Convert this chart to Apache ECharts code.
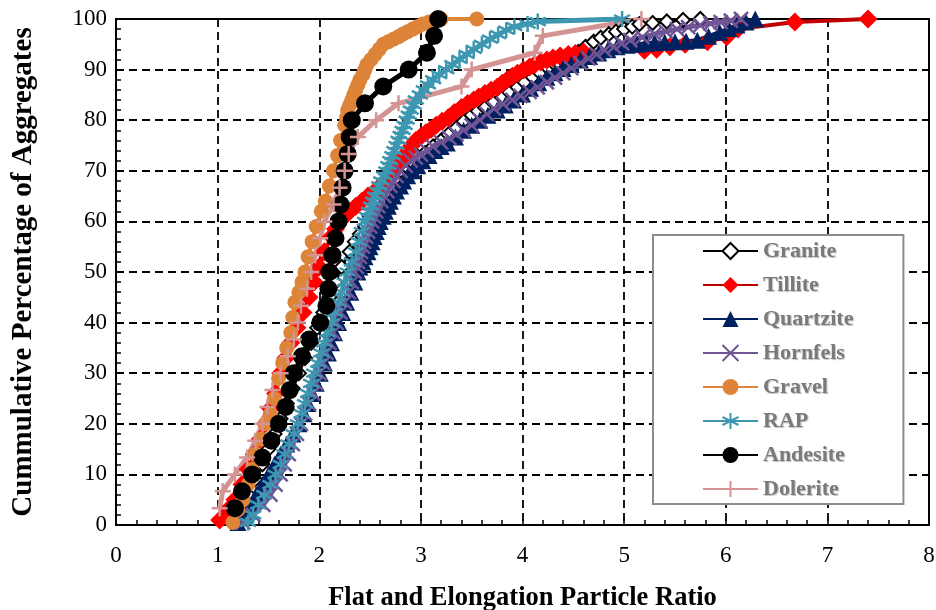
<!DOCTYPE html>
<html>
<head>
<meta charset="utf-8">
<script src="https://cdn.jsdelivr.net/npm/echarts@6/dist/echarts.min.js"></script>
<style>html,body{margin:0;padding:0;background:#fff}#c{width:936px;height:610px}</style>
</head>
<body>
<div id="c"></div>
<script>
var xTicks = [0,1,2,3,4,5,6,7,8];
var yTicks = [0,10,20,30,40,50,60,70,80,90,100];
var seriesNames = ['Granite','Tillite','Quartzite','Hornfels','Gravel','RAP','Andesite','Dolerite'];

var granite = [[1.15,0.5],[1.22,3],[1.3,6],[1.37,9],[1.44,12],[1.5,15],[1.56,18],[1.62,21],[1.68,24],[1.74,27],[1.8,30],[1.86,33],[1.92,36],[1.98,39],[2.04,42],[2.1,45],[2.16,48],[2.22,51],[2.3,54],[2.35,56],[2.4,57.5],[2.45,59],[2.5,61],[2.55,62.5],[2.6,64],[2.65,65.5],[2.7,67],[2.75,68.5],[2.8,70],[2.85,71],[2.9,72],[2.97,72.8],[3.04,73.5],[3.12,74.8],[3.2,76],[3.27,77.2],[3.35,78.5],[3.42,79.8],[3.5,81],[3.56,81.8],[3.63,82.5],[3.71,83.5],[3.8,84.5],[3.87,85.5],[3.95,86.5],[4.02,87.5],[4.1,88.5],[4.17,89.4],[4.25,90.3],[4.32,91],[4.4,91.8],[4.47,92.6],[4.55,93.5],[4.62,94.5],[4.7,95.5],[4.77,96.3],[4.85,97],[4.92,97.5],[5.0,98],[5.08,98.5],[5.15,99],[5.28,99.2],[5.42,99.5],[5.58,99.8],[5.75,100]];

var tillite = [[1.02,1],[1.1,3],[1.17,5],[1.24,8],[1.3,11],[1.36,14],[1.42,17],[1.47,20],[1.52,23],[1.57,26],[1.62,30],[1.67,33],[1.72,36],[1.78,39],[1.84,42],[1.9,45],[1.95,48],[2.0,51],[2.05,54],[2.12,57],[2.16,58.5],[2.2,60],[2.25,61],[2.3,62],[2.36,63],[2.42,64],[2.48,65],[2.55,66],[2.6,67],[2.65,68],[2.7,69],[2.74,70],[2.77,71],[2.8,72],[2.84,73],[2.88,74],[2.91,75],[2.95,76],[3.0,76.8],[3.05,77.5],[3.1,78.2],[3.15,79],[3.21,79.8],[3.27,80.5],[3.33,81.5],[3.4,82.5],[3.46,83.3],[3.52,84],[3.57,84.6],[3.63,85.3],[3.69,85.9],[3.75,86.5],[3.8,87.3],[3.85,88],[3.9,88.7],[3.95,89.3],[4.01,89.9],[4.07,90.5],[4.12,91],[4.18,91.5],[4.24,91.9],[4.3,92.3],[4.37,92.7],[4.45,93],[4.52,93.2],[4.6,93.5],[5.2,93.8],[5.32,94],[5.45,94.5],[5.6,95],[5.82,95.5],[6.01,96.5],[6.12,98],[6.68,99.4],[7.4,100]];

var quartzite = [[1.2,0.5],[1.27,2],[1.33,4],[1.38,6],[1.44,8],[1.5,10],[1.56,12],[1.62,14],[1.68,16],[1.74,18],[1.8,20],[1.85,22],[1.89,24],[1.93,26],[1.97,28],[2.01,30],[2.05,32],[2.09,34],[2.12,36],[2.15,38],[2.19,40],[2.23,42],[2.27,44],[2.31,46],[2.35,48],[2.38,50],[2.4,51],[2.43,52],[2.45,53],[2.48,54],[2.5,55],[2.52,56],[2.54,57],[2.56,58],[2.58,59],[2.6,60],[2.63,61],[2.65,62],[2.68,63],[2.7,64],[2.73,65],[2.76,66],[2.8,67],[2.83,68],[2.87,69],[2.92,70],[2.97,71],[3.02,72],[3.08,73],[3.14,74],[3.2,74.8],[3.26,75.5],[3.34,76.7],[3.42,78],[3.5,79],[3.58,80],[3.66,81],[3.75,82],[3.83,83],[3.91,84],[4.0,85.2],[4.08,86.3],[4.16,87.4],[4.24,88.5],[4.32,89.4],[4.4,90.2],[4.48,91],[4.57,91.9],[4.66,92.6],[4.75,93.3],[4.84,93.9],[4.93,94.5],[5.03,94.8],[5.13,95],[5.22,95.2],[5.3,95.3],[5.4,95.4],[5.5,95.5],[5.61,95.6],[5.72,95.8],[5.83,96.6],[5.94,97.4],[6.03,98.1],[6.11,98.8],[6.2,99.4],[6.29,100]];

var hornfels = [[1.25,0.5],[1.35,2],[1.45,4],[1.52,6],[1.57,8],[1.62,10],[1.66,12],[1.7,14],[1.74,16],[1.78,18],[1.82,20],[1.86,22],[1.9,24],[1.94,26],[1.97,28],[2.0,30],[2.04,32],[2.07,34],[2.1,36],[2.14,38],[2.17,40],[2.21,42],[2.25,44],[2.29,46],[2.32,48],[2.35,50],[2.37,51],[2.38,52],[2.4,53],[2.41,54],[2.43,55],[2.44,56],[2.46,57],[2.48,58],[2.5,59],[2.52,60],[2.54,61],[2.56,62],[2.58,63],[2.61,64],[2.64,65],[2.67,66],[2.7,67],[2.73,68],[2.76,69],[2.8,70],[2.85,71],[2.9,72],[2.95,72.6],[3.0,73.2],[3.06,74],[3.12,74.8],[3.2,75.6],[3.28,76.5],[3.35,77.2],[3.42,78],[3.5,79],[3.58,80],[3.65,81.2],[3.72,82.3],[3.81,83.2],[3.9,84],[3.98,84.8],[4.07,85.6],[4.15,86.5],[4.24,87.5],[4.32,88.4],[4.4,89.3],[4.48,90.3],[4.57,91.3],[4.65,92.2],[4.73,93],[4.81,93.8],[4.9,94.5],[4.98,95.2],[5.06,95.8],[5.18,96.4],[5.3,97],[5.41,97.5],[5.52,98],[5.63,98.4],[5.75,98.8],[5.85,99.1],[5.95,99.4],[6.05,99.7],[6.15,100]];

var gravel = [[1.15,0.5],[1.2,3],[1.25,5],[1.3,8],[1.34,11],[1.37,14],[1.42,17],[1.47,20],[1.52,22],[1.56,25],[1.6,29],[1.64,32],[1.68,35],[1.72,38],[1.74,41],[1.76,44],[1.8,46],[1.83,48],[1.86,50],[1.89,53],[1.93,56],[1.97,59],[2.02,62],[2.06,64],[2.1,67],[2.14,70],[2.18,73],[2.21,76],[2.25,79],[2.27,80.5],[2.28,82],[2.3,83],[2.32,84],[2.34,85],[2.36,86],[2.38,87],[2.4,88],[2.43,89],[2.45,90],[2.47,91],[2.51,92],[2.55,93],[2.59,94],[2.63,95],[2.68,95.5],[2.73,96],[2.78,96.5],[2.82,97],[2.87,97.5],[2.92,98],[2.97,98.5],[3.02,99],[3.08,99.4],[3.14,99.7],[3.2,100],[3.55,100]];

var rap = [[1.3,0.5],[1.35,2],[1.4,4],[1.46,6],[1.52,8],[1.57,10],[1.62,12],[1.66,14],[1.7,16],[1.75,18],[1.79,20],[1.83,22],[1.86,24],[1.89,26],[1.92,28],[1.95,30],[1.99,32],[2.02,34],[2.05,36],[2.08,38],[2.12,40],[2.15,42],[2.19,44],[2.22,46],[2.25,48],[2.28,50],[2.32,52],[2.36,54],[2.39,56],[2.42,58],[2.45,60],[2.47,61],[2.49,62],[2.51,63],[2.53,64],[2.55,65],[2.57,66],[2.59,67],[2.61,68],[2.64,69],[2.66,70],[2.68,71],[2.7,72],[2.72,73],[2.74,74],[2.76,75],[2.78,76],[2.8,77],[2.82,78],[2.84,79],[2.86,80],[2.88,81],[2.9,82],[2.93,83],[2.95,84],[2.99,85],[3.03,86],[3.07,87],[3.12,88],[3.18,89],[3.25,90],[3.31,91],[3.38,92],[3.45,93],[3.52,94],[3.6,95],[3.68,96],[3.76,96.9],[3.84,97.8],[3.92,98.5],[4.05,99],[4.15,99.5],[4.98,100]];

var andesite = [[1.17,3.33],[1.24,6.67],[1.34,10],[1.44,13.33],[1.53,16.67],[1.6,20],[1.67,23.33],[1.71,26.67],[1.75,30],[1.83,33.33],[1.9,36.67],[2.01,40],[2.07,43.33],[2.09,46.67],[2.1,50],[2.13,53.33],[2.16,56.67],[2.19,60],[2.21,63.33],[2.23,66.67],[2.25,70],[2.28,73.33],[2.3,76.67],[2.32,80],[2.45,83.33],[2.63,86.67],[2.88,90],[3.06,93.33],[3.13,96.67],[3.17,100]];

var dolerite = [[1.02,3.33],[1.05,6.67],[1.17,10],[1.29,13.33],[1.37,16.67],[1.44,20],[1.49,23.33],[1.54,26.67],[1.62,30],[1.69,33.33],[1.75,36.67],[1.79,40],[1.82,43.33],[1.88,46.67],[1.92,50],[1.96,53.33],[2.01,56.67],[2.05,60],[2.14,63.33],[2.2,66.67],[2.25,70],[2.29,73.33],[2.38,76.67],[2.56,80],[2.78,83.33],[3.4,86.67],[3.5,90],[4.12,93.33],[4.2,96.67],[5.17,100]];

var SYM_X = 'path://M0 0 L10 10 M10 0 L0 10';
var SYM_PLUS = 'path://M5 0 L5 10 M0 5 L10 5';
var SYM_AST = 'path://M5 0 L5 10 M0.7 2.5 L9.3 7.5 M0.7 7.5 L9.3 2.5';

function mk(name, data, lineColor, lineWidth, symbol, size, fill, border, bw) {
  return {
    name: name, type: 'line', data: data,
    symbol: symbol, symbolSize: size,
    lineStyle: {color: lineColor, width: lineWidth},
    itemStyle: {color: fill, borderColor: border, borderWidth: bw},
    emphasis: {disabled: true},
    animation: false
  };
}

var chart = echarts.init(document.getElementById('c'), null, {renderer: 'canvas'});
var serif = 'Liberation Serif';
chart.setOption({
  animation: false,
  grid: {left: 116, right: 7, top: 19, bottom: 85, outerBoundsMode: 'none', containLabel: false,
    show: true, borderColor: '#000', borderWidth: 2, backgroundColor: 'transparent'},
  xAxis: {
    type: 'value', min: xTicks[0], max: xTicks[xTicks.length-1], interval: 1,
    name: 'Flat and Elongation Particle Ratio', nameLocation: 'middle', nameGap: 60,
    nameTextStyle: {fontFamily: serif, fontWeight: 'bold', fontSize: 26.5, color: '#000'},
    axisLine: {show: true, onZero: false, lineStyle: {color: '#000', width: 2}},
    axisTick: {show: true, inside: true, length: 6, lineStyle: {color: '#000', width: 1.5}},
    minorTick: {show: true, splitNumber: 5, length: 5, lineStyle: {color: '#000', width: 1.5}},
    axisLabel: {fontFamily: serif, fontSize: 23, color: '#000', margin: 19},
    splitLine: {show: true, lineStyle: {color: '#000', width: 1.8, type: [8, 5]}}
  },
  yAxis: {
    type: 'value', min: yTicks[0], max: yTicks[yTicks.length-1], interval: 10,
    name: 'Cummulative Percentage of Aggregates', nameLocation: 'middle', nameGap: 78,
    nameTextStyle: {fontFamily: serif, fontWeight: 'bold', fontSize: 29, color: '#000'},
    axisLine: {show: true, onZero: false, lineStyle: {color: '#000', width: 2}},
    axisTick: {show: true, inside: true, length: 6, lineStyle: {color: '#000', width: 1.5}},
    minorTick: {show: true, splitNumber: 5, length: 5, lineStyle: {color: '#000', width: 1.5}},
    axisLabel: {fontFamily: serif, fontSize: 23, color: '#000', margin: 9},
    splitLine: {show: true, lineStyle: {color: '#000', width: 1.8, type: [8, 5]}}
  },
  legend: {
    data: seriesNames,
    orient: 'vertical', left: 653, top: 235,
    padding: [5, 50, 4, 49],
    itemWidth: 55, itemHeight: 20, itemGap: 12,
    backgroundColor: '#fff', borderColor: '#8c8c8c', borderWidth: 2,
    textStyle: {fontFamily: serif, fontWeight: 'bold', fontSize: 22, color: '#7a7a7a',
      textShadowColor: 'rgba(0,0,0,0.25)', textShadowBlur: 1, textShadowOffsetX: 1, textShadowOffsetY: 1}
  },
  series: [
    mk(seriesNames[0], granite, '#000000', 3, 'emptyDiamond', 14, '#000000', '#000000', 2),
    mk(seriesNames[1], tillite, '#C00000', 4, 'diamond', 19, '#FF0000', '#FF0000', 0),
    mk(seriesNames[2], quartzite, '#002060', 4, 'triangle', 17, '#002060', '#002060', 0),
    mk(seriesNames[3], hornfels, '#705595', 5, SYM_X, 14, '#705595', '#705595', 2.5),
    mk(seriesNames[4], gravel, '#DD8439', 4, 'circle', 15, '#DD8439', '#DD8439', 0),
    mk(seriesNames[5], rap, '#3D97B1', 5, SYM_AST, 16, '#3D97B1', '#3D97B1', 2.5),
    mk(seriesNames[6], andesite, '#000000', 5, 'circle', 18, '#000000', '#000000', 0),
    mk(seriesNames[7], dolerite, '#D39493', 5, SYM_PLUS, 16, '#D39493', '#D39493', 2.5)
  ]
});
</script>
</body>
</html>
